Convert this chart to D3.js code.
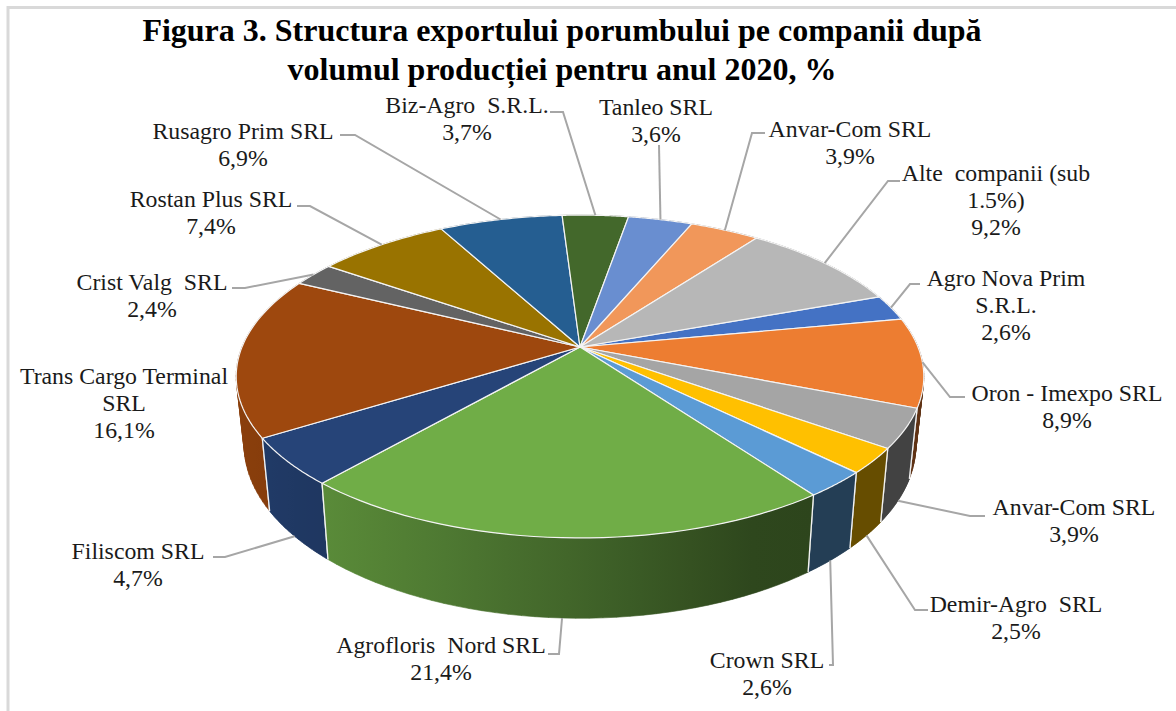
<!DOCTYPE html>
<html>
<head>
<meta charset="utf-8">
<script src="https://cdn.jsdelivr.net/npm/d3@7"></script>
<style>
html,body{margin:0;padding:0;background:#fff;overflow:hidden}
svg{display:block}
text{font-family:"Liberation Serif",serif}
</style>
</head>
<body>
<svg id="c" width="1176" height="711"></svg>
<script>
const titleLines = ["Figura 3. Structura exportului porumbului pe companii după", "volumul producției pentru anul 2020, %"];
const categories = [
  ["Agro Nova Prim","S.R.L."],["Oron - Imexpo SRL"],["Anvar-Com SRL"],["Demir-Agro  SRL"],["Crown SRL"],
  ["Agrofloris  Nord SRL"],["Filiscom SRL"],["Trans Cargo Terminal","SRL"],["Crist Valg  SRL"],["Rostan Plus SRL"],
  ["Rusagro Prim SRL"],["Biz-Agro  S.R.L."],["Tanleo SRL"],["Anvar-Com SRL"],["Alte  companii (sub","1.5%)"]
];
const values = [2.6,8.9,3.9,2.5,2.6,21.4,4.7,16.1,2.4,7.4,6.9,3.7,3.6,3.9,9.2];
const colors = ["#4472c4","#ed7d31","#a5a5a5","#ffc000","#5b9bd5","#70ad47","#264478","#9e480e","#636363","#997300","#255e91","#43682b","#698ed0","#f1975a","#b7b7b7"];
// label layout: centre x, first baseline y
const labelX = [1006,1067,1074,1016,767,441,138,124,152,211,243,467,656,850,996];
const labelY = [286,401,515,612,668,653,559,384,290,207,139,113,115,137,181];
// leader elbow points: [text-side x, elbow x, elbow y]; null = no leader
const leaders = [[920,910,284],[965,950,397],[985,970,516],[928,915,610],[829,833,665],[548,559,654],[213,225,557],null,[232,245,288],[297,310,206],[340,355,135],[550,563,112],[659,659,145],[765,752,133],[900,888,181]];

const svg = d3.select("#c");
const defs = svg.append("defs");
const fmt = v => v.toFixed(1).replace(".", ",") + "%";

// frame
svg.append("path").attr("d","M8,711V7.5H1176").attr("fill","none").attr("stroke","#d9d9d9").attr("stroke-width",3);

// perspective projection of the pie disc
const cx = 580, cy = 347, R = 338, S = 156, K = 0.183;
const sx = d3.scaleLinear().domain([0,1]).range([cx,cx+R]);
const sy = d3.scaleLinear().domain([0,1]).range([cy,cy+S]);
const topPt = a => { const u=Math.sin(a), v=-Math.cos(a), w=1-K*v; return [sx(u/w), sy(v/w)]; };
const botX = d3.scaleLinear().domain([cx,cx+100]).range([cx,cx+97.7]);
const botY = d3.scaleLinear().domain([cy,cy+100]).range([413,413+107.5]);
const botPt = a => { const [x,y]=topPt(a); return [botX(x),botY(y)]; };

const pie = d3.pie().sort(null).startAngle(70*Math.PI/180).endAngle((70+360)*Math.PI/180);
const arcs = pie(values);
const samples = d => d3.range(0,41).map(i => d.startAngle+(d.endAngle-d.startAngle)*i/40);
const line = d3.line();

// side walls, drawn as a sweep of small quads so the silhouette follows the hull of the two discs
const light = d3.scaleLinear().domain([240,330,600,760,930]).range([.87,.8,.56,.4,.4]);
const shade = (c,f)=>{const r=d3.rgb(c);return d3.rgb(r.r*f,r.g*f,r.b*f).formatHex();};
const order = arcs.map((d,i)=>i).sort((a,b)=>-Math.cos((arcs[a].startAngle+arcs[a].endAngle)/2)+Math.cos((arcs[b].startAngle+arcs[b].endAngle)/2));
order.forEach(i=>{
  const d = arcs[i], as = samples(d);
  const t = as.map(topPt), b = as.map(botPt);
  const xs = t.concat(b).map(p=>p[0]);
  const x0 = d3.min(xs), x1 = d3.max(xs);
  const g = defs.append("linearGradient").attr("id","w"+i).attr("gradientUnits","userSpaceOnUse")
    .attr("x1",x0).attr("x2",x1).attr("y1",0).attr("y2",0);
  d3.range(0,9).forEach(j=>{
    const x = x0+(x1-x0)*j/8;
    g.append("stop").attr("offset",j/8).attr("stop-color",shade(colors[i],light(x)));
  });
  let dPath = "";
  d3.range(0,as.length-1).forEach(j=>{
    let q = [t[j],t[j+1],b[j+1],b[j]];
    if (d3.polygonArea(q) < 0) q = q.reverse();
    dPath += line(q)+"Z";
  });
  svg.append("path").attr("d",dPath).attr("fill",`url(#w${i})`).attr("stroke",`url(#w${i})`).attr("stroke-width",0.6);
  svg.append("path").attr("d",line([t[0],b[0]])).attr("stroke","#f4f4f4").attr("stroke-width",1.3).attr("fill","none");
  svg.append("path").attr("d",line([t[40],b[40]])).attr("stroke","#f4f4f4").attr("stroke-width",1.3).attr("fill","none");
});

// top faces
arcs.forEach((d,i)=>{
  svg.append("path").attr("d",line([[cx,cy]].concat(samples(d).map(topPt)))+"Z")
    .attr("fill",colors[i]).attr("stroke","#f4f4f4").attr("stroke-width",1.2).attr("stroke-linejoin","round");
});

// leader lines
arcs.forEach((d,i)=>{
  const l = leaders[i]; if(!l) return;
  const mid = (d.startAngle+d.endAngle)/2;
  const front = Math.cos(mid) < -0.2;
  const end = front ? botPt(mid) : topPt(mid);
  svg.append("path").attr("d",line([[l[0],l[2]],[l[1],l[2]],end])).attr("fill","none")
    .attr("stroke","#a6a6a6").attr("stroke-width",2);
});

// labels
const lh = 27;
categories.forEach((c,i)=>{
  const t = svg.append("text").attr("text-anchor","middle").attr("font-size",23.8).attr("fill","#1a1a1a");
  c.concat([fmt(values[i])]).forEach((s,j)=>{
    t.append("tspan").attr("x",labelX[i]).attr("y",labelY[i]+j*lh).style("white-space","pre").text(s);
  });
});

// title
titleLines.forEach((s,i)=>{
  svg.append("text").attr("x",562).attr("y",41+i*39).attr("text-anchor","middle")
    .attr("font-size",32).attr("font-weight","bold").attr("fill","#000").style("white-space","pre").text(s);
});
</script>
</body>
</html>
